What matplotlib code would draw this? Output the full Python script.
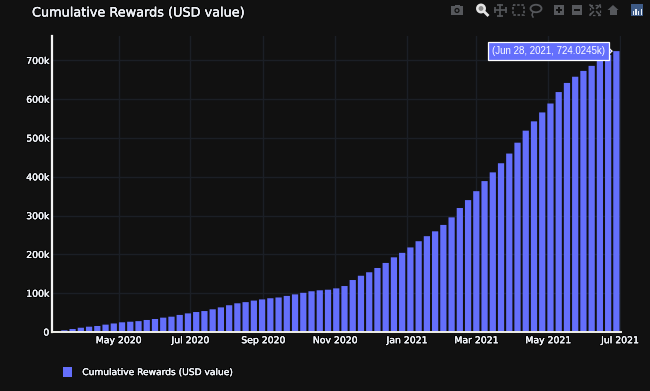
import matplotlib
matplotlib.use('Agg')
import matplotlib.pyplot as plt
import matplotlib.dates as mdates
import matplotlib.patheffects as pe
import matplotlib.patches as mpatches
import pandas as pd

# valeurs (milliers de USD), une barre par semaine
rewards_k = [2.5, 4.4, 7.7, 11, 13.7, 15.5, 19, 22, 25, 26.5,
             28, 31, 33.5, 37, 39.5, 44, 48, 51.5, 54, 58.5,
             63.5, 69, 74, 77, 81, 84, 87, 89, 93, 97,
             101, 105, 107.5, 109, 112.5, 118.5, 134, 145, 154, 165,
             178, 192.5, 204, 218, 234, 247, 259.5, 276, 295.5, 319.6,
             340, 363, 389, 411.5, 435, 460, 488, 519, 543, 566,
             589, 618.5, 642, 658, 673, 686, 699, 714, 724.0245]
first_week = '2020-03-09'
x_ticks = ['2020-05-01', '2020-07-01', '2020-09-01', '2020-11-01', '2021-01-01',
           '2021-03-01', '2021-05-01', '2021-07-01']
x_labels = ['May 2020', 'Jul 2020', 'Sep 2020', 'Nov 2020', 'Jan 2021',
            'Mar 2021', 'May 2021', 'Jul 2021']
y_ticks = [0, 100, 200, 300, 400, 500, 600, 700]
y_labels = ['0', '100k', '200k', '300k', '400k', '500k', '600k', '700k']
title = 'Cumulative Rewards (USD value)'
hover_label = '(Jun 28, 2021, 724.0245k)'

BG = '#111111'
BAR = '#646ffc'
GRID = '#1b1f26'
TXT = '#eef1f6'
halo = [pe.withStroke(linewidth=1.5, foreground='#000000'),
        pe.withStroke(linewidth=0.2, foreground=TXT)]

weeks = pd.date_range(first_week, periods=len(rewards_k), freq='7D')
W, H = 650, 391

fig = plt.figure(figsize=(W / 100, H / 100), dpi=100, facecolor=BG)
ax = fig.add_axes([52 / W, (H - 332) / H, 568.5 / W, 296 / H], facecolor=BG)

bars = ax.bar(weeks, rewards_k, width=5.3, color=BAR, edgecolor='none', linewidth=0,
              zorder=3, label=title)
# pas de snap : des ecarts reguliers entre les barres
for b in bars:
    b.set_snap(False)

ax.set_xlim(pd.Timestamp('2020-03-05 12:00'), pd.Timestamp('2021-07-01 12:00'))
ax.set_ylim(0, 763)
ax.set_xticks([mdates.date2num(pd.Timestamp(d)) for d in x_ticks])
ax.set_xticklabels(x_labels)
ax.set_yticks(y_ticks)
ax.set_yticklabels(y_labels)
ax.tick_params(length=0, colors=TXT, labelsize=6.7, pad=2)
ax.tick_params(axis='x', pad=3)
for lab in ax.get_xticklabels() + ax.get_yticklabels():
    lab.set_path_effects(halo)
ax.grid(True, color=GRID, linewidth=1, zorder=0)
ax.set_axisbelow(True)

for s in ['top', 'right']:
    ax.spines[s].set_visible(False)
ax.spines['left'].set_color('#f4f4f4')
ax.spines['left'].set_linewidth(1.6)
ax.spines['bottom'].set_color('#f0f0e8')
ax.spines['bottom'].set_linewidth(1.4)
ax.spines['left'].set_zorder(5)
ax.spines['bottom'].set_zorder(5)

# bulle de survol sur la derniere barre
ax.annotate('', xy=(weeks[-1], rewards_k[-1]), xytext=(-6, 0),
            textcoords='offset points', zorder=6,
            arrowprops=dict(arrowstyle='-|>,head_width=0.3,head_length=0.3', fc=BAR, ec='white',
                            lw=0.7, shrinkA=0, shrinkB=2.6))
ax.annotate(hover_label, xy=(weeks[-1], rewards_k[-1]), xytext=(-7.9, 0),
            textcoords='offset points', ha='right', va='center', color='white',
            fontsize=7.0, family='Liberation Sans', zorder=7,
            bbox=dict(boxstyle='square,pad=0.42', fc=BAR, ec='white', lw=0.9))

# titre et legende
fig.text(32 / W, 1 - 13 / H, title, color=TXT, fontsize=9.25, va='center', ha='left',
         path_effects=halo)
leg = ax.legend(loc='lower left', bbox_to_anchor=(60 / W, 1 - 380 / H), bbox_transform=fig.transFigure,
                frameon=False, fontsize=6.55, handlelength=1.05, handleheight=1.4, handletextpad=1.1,
                borderpad=0.3, borderaxespad=0)
for t in leg.get_texts():
    t.set_color(TXT)
    t.set_path_effects(halo)

# barre d'outils de plotly, dessinee a la main
ui = fig.add_axes([0, 0, 1, 1], facecolor='none', zorder=10)
ui.set_xlim(0, W)
ui.set_ylim(H, 0)
ui.axis('off')
ICON = '#56585c'


def rect(x, y, w, h, color=ICON, **kw):
    ui.add_patch(mpatches.Rectangle((x, y), w, h, fc=color, ec='none', **kw))


# appareil photo
rect(451, 6, 12, 9)
rect(454.5, 4.5, 5, 2)
ui.add_patch(mpatches.Circle((457, 10.5), 2.6, fc=BG, ec='none'))
ui.add_patch(mpatches.Circle((457, 10.5), 1.3, fc=ICON, ec='none'))
# loupe active
ui.add_patch(mpatches.Circle((481, 8.5), 3.7, fc='#8a8a8a', ec='#e4e4e4', lw=1.8))
ui.plot([484, 487.5], [11.5, 15], color='#e4e4e4', lw=2)
# deplacement
ui.plot([494.5, 505.5], [10, 10], color=ICON, lw=1.2)
ui.plot([500, 500], [4.5, 15.5], color=ICON, lw=1.2)
ui.plot([494.5, 505.5], [10, 10], ls='none', marker='|', color=ICON, ms=4, mew=1.2)
ui.plot([500, 500], [4.5, 15.5], ls='none', marker='_', color=ICON, ms=4, mew=1.2)
# selection rectangle
ui.add_patch(mpatches.Rectangle((512.5, 5), 11, 10, fc='none', ec=ICON, lw=1.2, ls=(0, (1.5, 1))))
# lasso
ui.add_patch(mpatches.Ellipse((536, 8.5), 11, 7.5, fc='none', ec=ICON, lw=1.3))
ui.plot([533, 532, 533], [12, 15, 17], color=ICON, lw=1.1)
# zoom plus / moins
rect(554, 5, 10, 10)
rect(556, 9.4, 6, 1.3, color=BG)
rect(558.4, 7, 1.3, 6, color=BG)
rect(572, 5, 10, 10)
rect(574, 9.4, 6, 1.3, color=BG)
# autoscale
for cx, cy in [(590, 5), (600, 5), (590, 15), (600, 15)]:
    ui.plot([cx, 595 + (cx - 595) * 0.35], [cy, 10 + (cy - 10) * 0.35], color=ICON, lw=1.2)
ui.add_patch(mpatches.Rectangle((590, 5), 10, 10, fc='none', ec=ICON, lw=0.9, ls=(0, (2, 2))))
# maison
ui.add_patch(mpatches.Polygon([(607.5, 10), (613, 5), (618.5, 10)], fc=ICON, ec='none'))
rect(609.5, 10, 7, 5)
# logo
rect(631, 4, 12, 12, color='#3d5a86')
for bx, bh in [(632.5, 4), (635.2, 6), (637.9, 4), (640.6, 6)]:
    rect(bx, 14.5 - bh, 1.5, bh, color='#e8eef5')

fig.savefig('out.png', dpi=100, facecolor=BG)
